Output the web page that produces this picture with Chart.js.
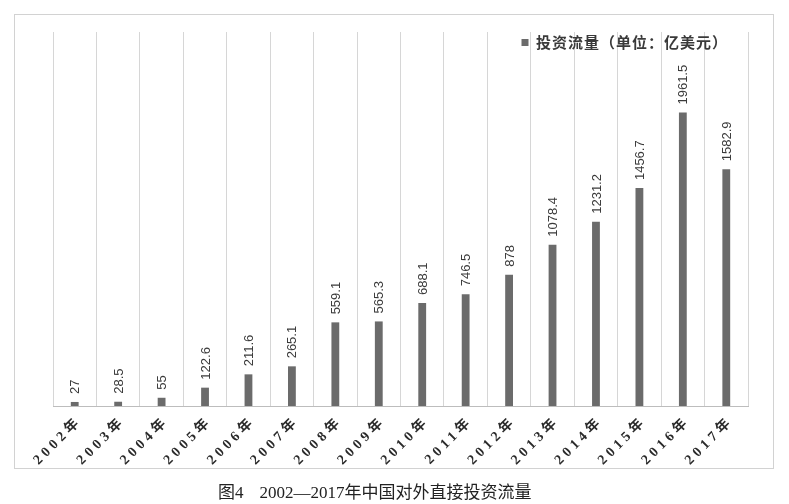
<!DOCTYPE html>
<html><head><meta charset="utf-8">
<script src="https://cdn.jsdelivr.net/npm/chart.js@4.4.1/dist/chart.umd.min.js"></script>
<style>
html,body{margin:0;padding:0;background:#fff;}
body{width:789px;height:504px;position:relative;overflow:hidden;}
#frame{position:absolute;left:14px;top:14px;width:760px;height:455px;border:1px solid #d2d2d2;box-sizing:border-box;}
#wrap{position:absolute;left:0;top:0;width:789px;height:504px;}
#caption{position:absolute;left:218px;top:481px;font-size:17px;font-family:"Liberation Serif","Noto Sans CJK SC",serif;color:#222;white-space:nowrap;line-height:24px;}
#caption span.gap{display:inline-block;width:16px;}
</style></head>
<body>
<div id="frame"></div>
<div id="wrap"><canvas id="c" width="789" height="504"></canvas></div>
<div id="caption">图4<span class="gap"></span>2002—2017年中国对外直接投资流量</div>
<script>
const categories = ['2002年','2003年','2004年','2005年','2006年','2007年','2008年','2009年','2010年','2011年','2012年','2013年','2014年','2015年','2016年','2017年'];
const flowValues = [27, 28.5, 55, 122.6, 211.6, 265.1, 559.1, 565.3, 688.1, 746.5, 878, 1078.4, 1231.2, 1456.7, 1961.5, 1582.9];
const seriesName = '投资流量（单位：亿美元）';
const yMin = 0;
const yMax = 2500;

const valueLabels = {
  id: 'valueLabels',
  beforeDraw(chart) { chart.ctx.letterSpacing = '1px'; },
  afterDatasetsDraw(chart) {
    const ctx = chart.ctx;
    const meta = chart.getDatasetMeta(0);
    ctx.save();
    ctx.letterSpacing = '0px';
    ctx.font = '13px "Liberation Sans", Arial, sans-serif';
    ctx.fillStyle = '#3a3a3a';
    ctx.textAlign = 'left';
    ctx.textBaseline = 'middle';
    meta.data.forEach((bar, i) => {
      ctx.save();
      ctx.translate(bar.x + 1, bar.y - 8);
      ctx.rotate(-Math.PI / 2);
      ctx.fillText(String(flowValues[i]), 0, 0);
      ctx.restore();
    });
    ctx.restore();
    ctx.letterSpacing = '4px';
  },
  afterDraw(chart) { chart.ctx.letterSpacing = '0px'; },
  afterLayout(chart) {
    const lg = chart.legend;
    if (lg) { lg.top += 28; lg.bottom += 28; lg.left -= 25; lg.right -= 25; }
  }
};

new Chart(document.getElementById('c'), {
  type: 'bar',
  data: {
    labels: categories,
    datasets: [{
      label: seriesName,
      data: flowValues,
      backgroundColor: '#6b6b6b',
      borderWidth: 0,
      barPercentage: 0.18,
      categoryPercentage: 1.0
    }]
  },
  options: {
    responsive: false,
    animation: false,
    devicePixelRatio: 1,
    layout: { padding: { left: 53, right: 41, top: 0, bottom: 38 } },
    plugins: {
      legend: {
        position: 'top',
        align: 'end',
        labels: {
          boxWidth: 7, boxHeight: 7, padding: 7,
          color: '#3a3a3a',
          font: { family: '"Noto Sans CJK SC", sans-serif', size: 15, weight: 'bold' }
        }
      },
      tooltip: { enabled: false }
    },
    scales: {
      x: {
        grid: { color: '#d6d6d6', drawTicks: false, offset: true, lineWidth: 1 },
        border: { color: '#bdbdbd', width: 1 },
        ticks: {
          z: 1,
          autoSkip: false,
          minRotation: 45, maxRotation: 45,
          padding: 7,
          labelOffset: 5,
          color: '#2a2a2a',
          font: { family: '"Liberation Serif", "Noto Sans CJK SC", serif', size: 14, weight: 'bold' }
        },
        afterFit(scale) { scale.height = 60; }
      },
      y: { display: false, min: yMin, max: yMax }
    }
  },
  plugins: [valueLabels]
});
</script>
</body></html>
